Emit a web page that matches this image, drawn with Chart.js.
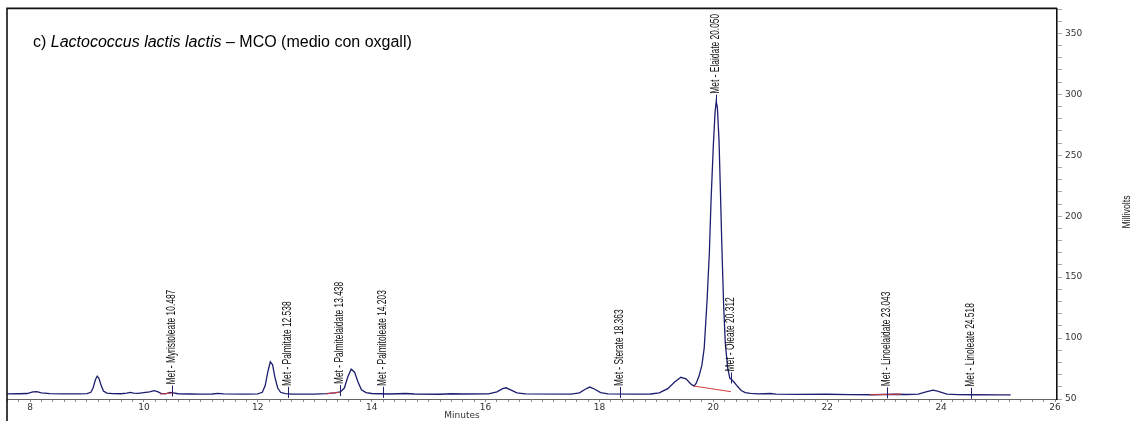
<!DOCTYPE html>
<html>
<head>
<meta charset="utf-8">
<script src="https://cdn.jsdelivr.net/npm/chart.js@4.4.1/dist/chart.umd.min.js"></script>
<style>
  html, body { margin: 0; padding: 0; background: #ffffff; }
  #wrap { width: 1145px; height: 421px; position: relative; }
</style>
</head>
<body>
<div id="wrap"><canvas id="chrom" width="1145" height="421"></canvas></div>
<script>
// Chromatogram trace: retention time (min) and detector signal (mV)
const retentionTimes = [
  7.60, 7.80, 7.95, 8.05, 8.12, 8.20, 8.35, 8.60, 8.85, 9.00,
  9.07, 9.11, 9.15, 9.18, 9.21, 9.25, 9.29, 9.35, 9.45, 9.60,
  9.70, 9.76, 9.82, 9.90, 10.00, 10.10, 10.18, 10.24, 10.30, 10.38,
  10.46, 10.52, 10.60, 10.80, 11.00, 11.20, 11.30, 11.40, 11.80, 12.00,
  12.08, 12.13, 12.18, 12.22, 12.26, 12.30, 12.35, 12.40, 12.48, 12.60,
  13.00, 13.20, 13.35, 13.45, 13.52, 13.58, 13.64, 13.70, 13.76, 13.82,
  13.90, 14.00, 14.30, 14.60, 14.75, 15.20, 15.40, 15.60, 16.05, 16.20,
  16.30, 16.36, 16.44, 16.55, 16.70, 17.50, 17.65, 17.75, 17.83, 17.92,
  18.02, 18.15, 18.60, 18.90, 19.05, 19.20, 19.32, 19.43, 19.52, 19.60,
  19.66, 19.70, 19.75, 19.80, 19.84, 19.89, 19.93, 19.96, 20.00, 20.03,
  20.05, 20.07, 20.10, 20.12, 20.15, 20.18, 20.21, 20.25, 20.29, 20.32,
  20.37, 20.43, 20.49, 20.56, 20.65, 20.80, 21.00, 21.10, 21.50, 22.00,
  22.40, 22.80, 23.20, 23.40, 23.60, 23.75, 23.86, 23.95, 24.10, 24.30,
  24.60, 25.00, 25.22
];
const signalMv = [
  54.2, 54.3, 54.5, 55.8, 56.0, 55.0, 54.4, 54.2, 54.2, 54.4,
  55.5, 59.5, 66.0, 68.8, 67.0, 61.0, 56.5, 54.8, 54.4, 54.3,
  54.9, 55.4, 54.8, 54.6, 55.2, 55.8, 56.8, 56.0, 54.6, 54.3,
  55.4, 55.0, 54.3, 54.1, 54.0, 54.1, 54.6, 54.2, 54.0, 54.2,
  55.5, 61.0, 73.0, 80.5, 78.0, 68.0, 59.0, 55.5, 54.4, 54.0,
  54.0, 54.4, 55.0, 55.8, 59.0, 68.0, 74.5, 72.0, 64.0, 57.5,
  55.2, 54.5, 54.1, 54.5, 54.1, 53.9, 54.3, 54.1, 54.2, 55.8,
  58.5, 59.2, 57.5, 55.0, 54.2, 54.0, 55.0, 58.0, 59.8, 58.0,
  55.2, 54.2, 54.0, 54.1, 55.0, 58.5, 64.0, 67.8, 66.5, 62.5,
  60.6, 63.0, 69.0, 78.0, 92.0, 131.0, 170.0, 213.0, 258.0, 285.0,
  294.0, 290.0, 262.0, 228.0, 175.0, 128.0, 96.0, 76.0, 67.0, 66.0,
  63.5, 60.0, 57.0, 55.2, 54.6, 54.2, 54.5, 54.0, 53.8, 53.9,
  53.6, 53.5, 53.9, 53.7, 54.0, 56.0, 57.2, 56.2, 54.0, 53.6,
  53.5, 53.4, 53.4
];

// Identified peaks: name with expected retention time, and signal level at that time
const peakNames = [
  'Met - Myristoleate 10.487',
  'Met - Palmitate 12.538',
  'Met - Palmitelaidate 13.438',
  'Met - Palmitoleate 14.203',
  'Met - Sterate 18.363',
  'Met - Elaidate 20.050',
  'Met - Oleate 20.312',
  'Met - Linoelaidate 23.043',
  'Met - Linoleate 24.518'
];
const peakTimes = [10.487, 12.538, 13.438, 14.203, 18.363, 20.050, 20.312, 23.043, 24.518];
const peakLevels = [55.3, 54.2, 55.7, 54.2, 54.1, 294.0, 66.0, 53.8, 53.5];

// Integration baselines: start and end points [min, mV]
const integrationFrom = [[10.28, 54.0], [13.20, 54.2], [19.66, 60.6], [22.75, 53.5]];
const integrationTo   = [[10.52, 55.0], [13.44, 55.6], [20.31, 56.0], [23.30, 54.0]];

// Axis labels
const xTickLabels = ['8', '10', '12', '14', '16', '18', '20', '22', '24', '26'];
const yTickLabels = ['50', '100', '150', '200', '250', '300', '350'];

const traceColor = '#1e1e70';
const numFont = '"DejaVu Sans", Verdana, sans-serif';
const textFont = '"Liberation Sans", Arial, Helvetica, sans-serif';

const tracePoints = retentionTimes.map((t, i) => ({ x: t, y: signalMv[i] }));

const integrationSets = integrationFrom.map((a, i) => ({
  data: [{ x: a[0], y: a[1] }, { x: integrationTo[i][0], y: integrationTo[i][1] }],
  borderColor: '#d23c3c',
  borderWidth: 1,
  pointRadius: 0,
  tension: 0
}));

function labelFor(list, value) {
  const hit = list.find(s => Math.abs(Number(s) - value) < 1e-6);
  return hit === undefined ? '' : hit;
}

const decorations = {
  id: 'decorations',
  afterDraw(chart) {
    const { ctx, scales: { x, y }, chartArea } = chart;
    ctx.save();

    // outer frame: top and left edges
    ctx.strokeStyle = '#111';
    ctx.lineWidth = 1.6;
    ctx.beginPath();
    ctx.moveTo(chartArea.left, 421);
    ctx.lineTo(chartArea.left, chartArea.top);
    ctx.lineTo(chartArea.right, chartArea.top);
    ctx.stroke();

    // peak markers and names
    peakNames.forEach((name, i) => {
      const px = Math.round(x.getPixelForValue(peakTimes[i])) + 0.5;
      const py = y.getPixelForValue(peakLevels[i]);
      ctx.strokeStyle = traceColor;
      ctx.lineWidth = 1;
      ctx.beginPath();
      ctx.moveTo(px, py + 4);
      ctx.lineTo(px, py - 7);
      ctx.stroke();

      ctx.save();
      ctx.translate(px - 1, py - 8);
      ctx.rotate(-Math.PI / 2);
      ctx.scale(0.7, 1);
      ctx.font = '12px ' + textFont;
      ctx.fillStyle = '#111';
      ctx.textAlign = 'left';
      ctx.textBaseline = 'middle';
      ctx.fillText(name, 0, 0);
      ctx.restore();
    });

    // panel title with italic species name
    const parts = [
      ['c) ', 'normal'],
      ['Lactococcus lactis lactis', 'italic'],
      [' \u2013 MCO (medio con oxgall)', 'normal']
    ];
    let tx = 33;
    ctx.fillStyle = '#000';
    ctx.textAlign = 'left';
    ctx.textBaseline = 'alphabetic';
    parts.forEach(([s, style]) => {
      ctx.font = style + ' 16px ' + textFont;
      ctx.fillText(s, tx, 47);
      tx += ctx.measureText(s).width;
    });

    // axis titles
    ctx.font = '9px ' + numFont;
    ctx.fillStyle = '#333';
    ctx.textAlign = 'center';
    ctx.textBaseline = 'middle';
    ctx.fillText('Minutes', 462, 416);

    ctx.save();
    ctx.translate(1127, 212);
    ctx.rotate(-Math.PI / 2);
    ctx.scale(0.8, 1);
    ctx.font = '11px ' + textFont;
    ctx.fillStyle = '#222';
    ctx.fillText('Millivolts', 0, 0);
    ctx.restore();

    ctx.restore();
  }
};

new Chart(document.getElementById('chrom'), {
  type: 'line',
  data: {
    datasets: [
      ...integrationSets,
      {
        data: tracePoints,
        borderColor: traceColor,
        borderWidth: 1.3,
        pointRadius: 0,
        tension: 0
      }
    ]
  },
  options: {
    responsive: false,
    animation: false,
    devicePixelRatio: 1,
    layout: { padding: { left: 7, top: 8, right: 0, bottom: 0 } },
    plugins: { legend: { display: false }, tooltip: { enabled: false } },
    scales: {
      x: {
        type: 'linear',
        position: 'bottom',
        min: 7.596,
        max: 26.035,
        afterFit: s => { s.height = 22; },
        ticks: {
          stepSize: 0.2,
          includeBounds: false,
          autoSkip: false,
          maxRotation: 0,
          minRotation: 0,
          padding: 0,
          color: '#333',
          font: { family: numFont, size: 9 },
          callback: v => labelFor(xTickLabels, v)
        },
        grid: { drawOnChartArea: false, drawTicks: true, tickLength: 3, color: '#8a8a8a' },
        border: { display: true, color: '#666', width: 1 }
      },
      y: {
        type: 'linear',
        position: 'right',
        min: 50,
        max: 370.5,
        afterFit: s => { s.width = 88; },
        ticks: {
          stepSize: 10,
          includeBounds: false,
          autoSkip: false,
          padding: 3,
          color: '#333',
          font: { family: numFont, size: 9 },
          callback: v => labelFor(yTickLabels, v)
        },
        grid: { drawOnChartArea: false, drawTicks: true, tickLength: 5, color: '#aaaaaa' },
        border: { display: true, color: '#111', width: 1.6 }
      }
    }
  },
  plugins: [decorations]
});
</script>
</body>
</html>
